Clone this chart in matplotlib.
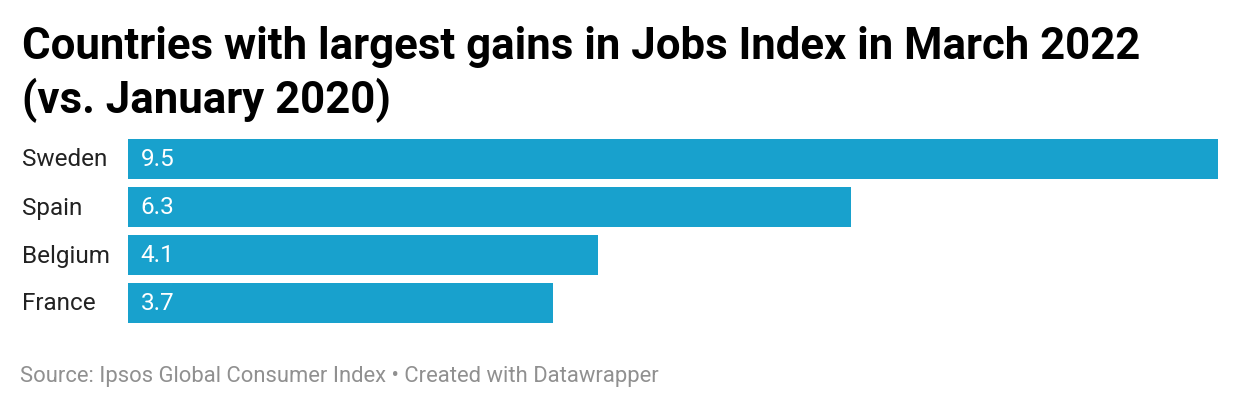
import matplotlib
matplotlib.use("Agg")
import matplotlib.pyplot as plt

countries = ["Sweden", "Spain", "Belgium", "France"]
values = [9.5, 6.3, 4.1, 3.7]

W, H = 1240, 410
fig = plt.figure(figsize=(W/100, H/100), dpi=100)
plt.rcParams["font.family"] = "Roboto"

ax = fig.add_axes([128/W, 1-324/H, (1218-128)/W, (324-140)/H])
ys = list(range(len(countries)))
ax.barh(ys, values, height=40/48, color="#18a1cd")
ax.set_xlim(0, max(values))
ax.set_ylim(len(countries)-1+0.5*40/48, -0.5*40/48)
ax.axis("off")
for y, c, v in zip(ys, countries, values):
    ax.text(-106/1090*max(values), y, c, ha="left", va="center", fontsize=17.5, color="#222222")
    ax.text(0.11, y, f"{v}", ha="left", va="center", fontsize=17.5, color="white")

fig.text(22/W, 1-47/H, "Countries with largest gains in Jobs Index in March 2022", fontsize=31.5, fontweight="bold", va="center", color="#000")
fig.text(22/W, 1-100/H, "(vs. January 2020)", fontsize=31.5, fontweight="bold", va="center", color="#000")
fig.text(20/W, 1-377/H, "Source: Ipsos Global Consumer Index • Created with Datawrapper", fontsize=15.8, va="center", color="#909090")
fig.savefig("out.png", dpi=100, facecolor="white")
